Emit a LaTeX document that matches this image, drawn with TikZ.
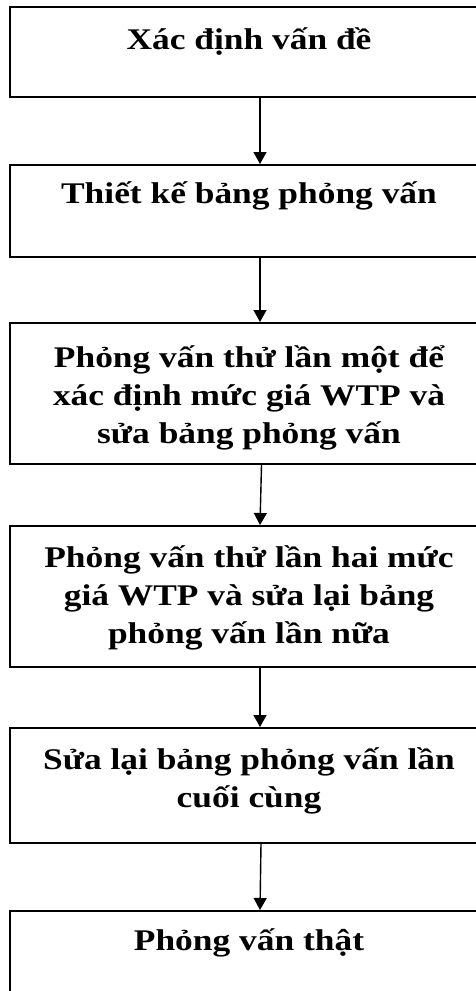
\documentclass[tikz,border=0pt]{standalone}
\usepackage{fontspec}
\setmainfont{Liberation Serif}[FakeStretch=1.18]
\usetikzlibrary{arrows.meta}
\begin{document}
\begin{tikzpicture}[x=1pt,y=-1pt,
  box/.style={draw=black, line width=2pt, rectangle, minimum width=476pt, inner sep=0pt, anchor=north},
  txt/.style={anchor=base, align=center, inner sep=0pt, font=\fontsize{30}{38}\selectfont\bfseries},
  arr/.style={draw=black, line width=1.4pt, -{Triangle[width=13pt,length=12pt]}}]
\useasboundingbox (0,0) rectangle (476,991);
\clip (0,0) rectangle (476,991);
\fill[white] (0,0) rectangle (476,991);
\node[box, minimum height=90pt] (b1) at (248,6) {};
\node[box, minimum height=92pt] (b2) at (248,164) {};
\node[box, minimum height=141pt] (b3) at (248,322) {};
\node[box, minimum height=141pt] (b4) at (248,525) {};
\node[box, minimum height=115pt] (b5) at (248,727) {};
\node[box, minimum height=100pt] (b6) at (248,910) {};
\node[txt] (t1) at (249,49) {Xác định vấn đề};
\node[txt] (t2) at (249,203) {Thiết kế bảng phỏng vấn};
\node[txt] (t3) at (249,443) {Phỏng vấn thử lần một để\\xác định mức giá WTP và\\sửa bảng phỏng vấn};
\node[txt] (t4) at (249,643) {Phỏng vấn thử lần hai mức\\giá WTP và sửa lại bảng\\phỏng vấn lần nữa};
\node[txt] (t5) at (249,807) {Sửa lại bảng phỏng vấn lần\\cuối cùng};
\node[txt] (t6) at (249,950) {Phỏng vấn thật};
\draw[arr] ([xshift=12pt]b1.south) -- ([xshift=12pt]b2.north);
\draw[arr] ([xshift=12pt]b2.south) -- ([xshift=12pt]b3.north);
\draw[arr] ([xshift=13.5pt]b3.south) -- ([xshift=12pt]b4.north);
\draw[arr] ([xshift=12pt]b4.south) -- ([xshift=12pt]b5.north);
\draw[arr] ([xshift=13pt]b5.south) -- ([xshift=12pt]b6.north);
\end{tikzpicture}
\end{document}
